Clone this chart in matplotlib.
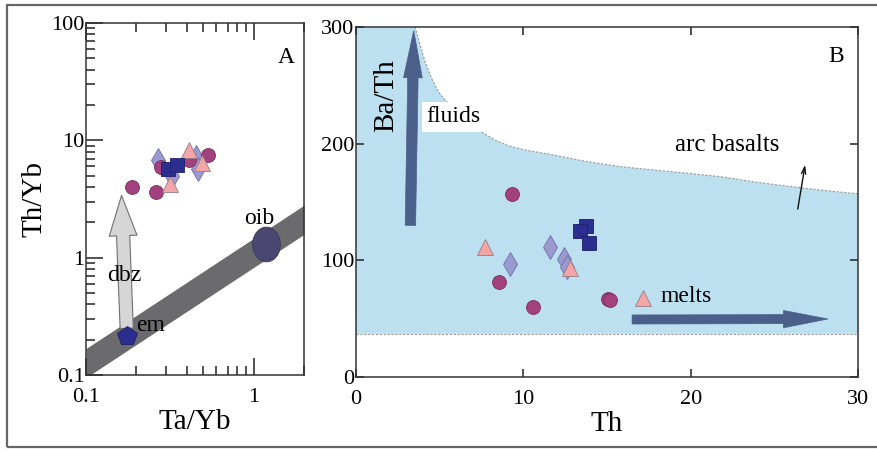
import numpy as np
import matplotlib.pyplot as plt
from matplotlib.path import Path
from matplotlib.ticker import FuncFormatter, NullFormatter, LogLocator

plt.rcParams['font.family'] = ['Liberation Serif', 'DejaVu Serif']

# ---- panel A: Th/Yb vs Ta/Yb (log-log) ----
a_circ_x = [0.189, 0.261, 0.279, 0.41, 0.535]
a_circ_y = [4.04, 3.66, 5.91, 6.84, 7.44]
a_sq_x = [0.309, 0.347]
a_sq_y = [5.73, 6.11]
a_tri_x = [0.316, 0.413, 0.489]
a_tri_y = [4.26, 8.3, 6.4]
a_dia_x = [0.27, 0.328, 0.456, 0.466]
a_dia_y = [6.84, 5.0, 7.2, 5.73]

band_x = [0.1, 2.0]
band_top = [0.168, 2.8]
band_bot = [0.095, 1.58]

em_pt = (0.175, 0.216)
oib_pt = (1.19, 1.32)
dbz_from = (0.175, 0.25)
dbz_to = (0.163, 3.39)

# ---- panel B: Ba/Th vs Th ----
b_circ_x = [9.3, 8.54, 10.6, 15.05, 15.2]
b_circ_y = [156.9, 81.1, 60.3, 66.9, 66.4]
b_sq_x = [13.73, 13.37, 13.9]
b_sq_y = [129.7, 124.9, 114.6]
b_tri_x = [7.69, 12.8, 17.16]
b_tri_y = [111.1, 93.4, 67.4]
b_dia_x = [9.22, 11.61, 12.46, 12.6]
b_dia_y = [96.9, 111.1, 101.0, 94.0]

arc_curve_x = [3.53, 3.83, 4.12, 4.52, 4.92, 5.32, 7.55, 8.31, 9.1, 10.1, 11.8, 13.8,
               15.8, 17.8, 19.8, 21.8, 23.7, 25.7, 27.7, 30.0]
arc_curve_y = [300, 284.6, 270.3, 256, 244.5, 237.4, 209.7, 203.1, 198.3, 194.6, 190.3,
               184.6, 180.3, 177.4, 174.6, 171.7, 167.4, 163.7, 160.3, 157]
arc_floor = 37

fluids_from = (3.25, 130)
fluids_to = (3.45, 297)
melts_from = (16.5, 49.3)
melts_to = (28.2, 49.7)
arc_tick_from = (26.4, 144)
arc_tick_to = (26.84, 182)

c_circ = dict(marker='o', ms=10, mfc='#a3407e', mec='#7a2d5e', mew=0.6, ls='none')
c_sq = dict(marker='s', ms=10, mfc='#2b2d8f', mec='#1e1e6a', mew=0.6, ls='none')
c_tri = dict(marker='^', ms=11, mfc='#f4a5a5', mec='#9a7a8a', mew=0.6, ls='none')
c_dia = dict(marker='d', ms=12, mfc='#9a9ad0', mec='#7070a8', mew=0.6, ls='none')

fig = plt.figure(figsize=(8.77, 4.51), dpi=100)

# outer frame
frame = plt.Rectangle((7 / 877, 1 - 447 / 451), 1.0, (447 - 5) / 451, transform=fig.transFigure,
                      fill=False, ec='#666666', lw=1.6, clip_on=False)
fig.patches.append(frame)

# ---------------- A ----------------
axA = fig.add_axes([86 / 877, 1 - 375 / 451, (304 - 86) / 877, (375 - 23) / 451])
axA.set_xscale('log')
axA.set_yscale('log')
axA.set_xlim(0.1, 2.0)
axA.set_ylim(0.1, 100)

axA.fill_between(band_x, band_bot, band_top, color='#6b6b6d', lw=0, zorder=1)

ell = np.linspace(0, 2 * np.pi, 60)
ell_marker = Path(np.column_stack([0.8 * np.cos(ell), np.sin(ell)]))
axA.plot(*oib_pt, marker=ell_marker, ms=25, mfc='#4a4870', mec='#3a3a55', mew=0.6, zorder=3)

axA.annotate('', xy=dbz_to, xytext=dbz_from,
             arrowprops=dict(arrowstyle='simple,head_length=2.9,head_width=2.0,tail_width=0.95',
                             fc='#d6d6d6', ec='#707070', lw=0.8, shrinkA=0, shrinkB=0,
                             mutation_scale=10), zorder=2)
axA.plot(*em_pt, marker='p', ms=15, mfc='#2b2d8f', mec='#1e1e6a', mew=0.6, zorder=4)

axA.plot(a_dia_x, a_dia_y, zorder=5, **c_dia)
axA.plot(a_circ_x, a_circ_y, zorder=5, **c_circ)
axA.plot(a_tri_x, a_tri_y, zorder=5, **c_tri)
axA.plot(a_sq_x, a_sq_y, zorder=6, **c_sq)

axA.text(0.17, 0.70, 'dbz', fontsize=17, ha='center', va='center', zorder=7)
axA.text(0.2, 0.262, 'em', fontsize=17, ha='left', va='center', zorder=7)
axA.text(1.076, 2.14, 'oib', fontsize=17, ha='center', va='center', zorder=7)
axA.text(1.57, 51, 'A', fontsize=17, ha='center', va='center')

fmt = FuncFormatter(lambda v, p: '%g' % v)
axA.xaxis.set_major_locator(LogLocator(base=10, numticks=10))
axA.yaxis.set_major_locator(LogLocator(base=10, numticks=10))
axA.xaxis.set_major_formatter(fmt)
axA.yaxis.set_major_formatter(fmt)
axA.xaxis.set_minor_formatter(NullFormatter())
axA.yaxis.set_minor_formatter(NullFormatter())
axA.tick_params(which='both', direction='in', left=True, right=False, top=True, bottom=True,
                labelsize=16, width=1.1, color='#222222')
axA.tick_params(which='major', length=12)
axA.tick_params(which='minor', length=6.5)
axA.tick_params(axis='y', pad=1)
axA.tick_params(axis='x', pad=9)
for s in axA.spines.values():
    s.set_linewidth(1.1)
    s.set_color('#333333')
axA.set_xlabel('Ta/Yb', fontsize=21, labelpad=2)
axA.set_ylabel('Th/Yb', fontsize=21, labelpad=3)

# ---------------- B ----------------
axB = fig.add_axes([356 / 877, 1 - 377 / 451, (858 - 356) / 877, (377 - 27) / 451])
axB.set_xlim(0, 30)
axB.set_ylim(0, 300)

poly_x = [0, 0] + arc_curve_x + [30]
poly_y = [arc_floor, 300] + arc_curve_y + [arc_floor]
axB.fill(poly_x, poly_y, color='#bde0f1', lw=0, zorder=0)
axB.plot(arc_curve_x, arc_curve_y, ls=(0, (2, 1.5)), color='#999999', lw=0.8, zorder=1)
axB.plot([0, 30], [arc_floor, arc_floor], ls=(0, (2, 1.5)), color='#999999', lw=0.8, zorder=1)

axB.annotate('', xy=fluids_to, xytext=fluids_from,
             arrowprops=dict(arrowstyle='simple,head_length=3.4,head_width=1.35,tail_width=0.75',
                             fc='#4a5f8a', ec='#4a5f8a', lw=0.5, shrinkA=0, shrinkB=0,
                             mutation_scale=10), zorder=3)
axB.annotate('', xy=melts_to, xytext=melts_from,
             arrowprops=dict(arrowstyle='simple,head_length=3.2,head_width=1.25,tail_width=0.65',
                             fc='#4a5f8a', ec='#4a5f8a', lw=0.5, shrinkA=0, shrinkB=0,
                             mutation_scale=10), zorder=3)
axB.annotate('', xy=arc_tick_to, xytext=arc_tick_from,
             arrowprops=dict(arrowstyle='->,head_length=0.5,head_width=0.15',
                             color='#111111', lw=1.0, shrinkA=0, shrinkB=0), zorder=3)

axB.text(4.22, 223, 'fluids', fontsize=17, ha='left', va='center', zorder=4,
         bbox=dict(fc='white', ec='none', pad=3))
axB.text(22.16, 199, 'arc basalts', fontsize=18, ha='center', va='center')
axB.text(18.2, 69.4, 'melts', fontsize=17, ha='left', va='center')
axB.text(28.67, 275, 'B', fontsize=17, ha='center', va='center')
axB.text(1.82, 241, 'Ba/Th', fontsize=21, rotation=90, ha='center', va='center', zorder=4)

axB.plot(b_dia_x, b_dia_y, zorder=5, **c_dia)
axB.plot(b_circ_x, b_circ_y, zorder=5, **c_circ)
axB.plot(b_tri_x, b_tri_y, zorder=5, **c_tri)
axB.plot(b_sq_x, b_sq_y, zorder=6, **c_sq)

axB.set_xticks([0, 10, 20, 30])
axB.set_yticks([0, 100, 200, 300])
axB.tick_params(direction='in', left=True, right=True, top=True, bottom=True,
                labelsize=16, width=1.1, length=6, color='#222222')
axB.tick_params(axis='y', pad=1)
axB.tick_params(axis='x', pad=9)
for s in axB.spines.values():
    s.set_linewidth(1.1)
    s.set_color('#333333')
axB.set_xlabel('Th', fontsize=21, labelpad=2)

fig.savefig('out.png', dpi=100)
